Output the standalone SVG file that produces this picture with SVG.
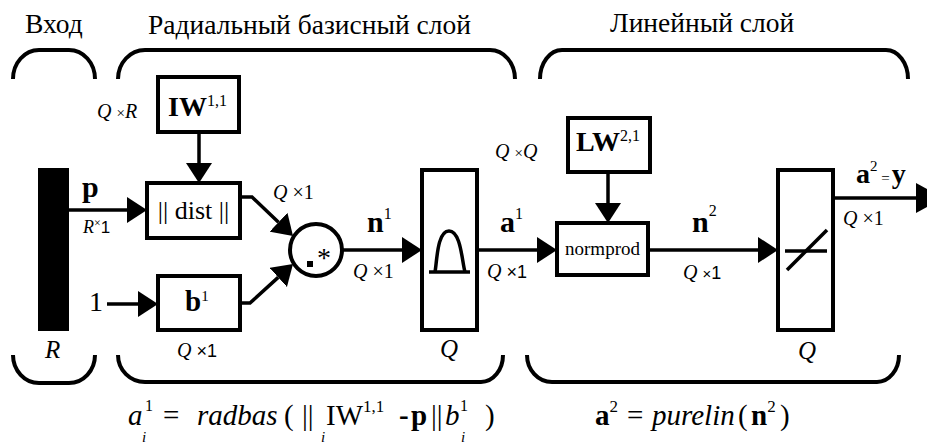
<svg xmlns="http://www.w3.org/2000/svg" width="927" height="448" viewBox="0 0 927 448">
<defs>
<marker id="ah" markerUnits="userSpaceOnUse" markerWidth="20" markerHeight="26" refX="0" refY="13" orient="auto">
<path d="M0,0 L20,13 L0,26 z" fill="#000"/>
</marker>
<style>
.t{font-family:'Liberation Serif','Times New Roman',serif;fill:#000}
.s{font-family:'Liberation Sans',Arial,sans-serif;fill:#000}
.i{font-style:italic}
.b{font-weight:bold}
.box{fill:#fff;stroke:#000;stroke-width:4}
.br{fill:none;stroke:#000;stroke-width:4}
.ln{fill:none;stroke:#000;stroke-width:3.5}
.con{fill:none;stroke:#000;stroke-width:3.5;marker-end:url(#ah)}
.h{font-size:27.5px}
.d{font-size:20px}
.f{font-size:29px}
</style>
</defs>
<rect width="927" height="448" fill="#fff"/>

<g id="headers">
<text class="t h" x="25" y="33">Вход</text>
<text class="t h" x="148" y="34">Радиальный базисный слой</text>
<text class="t h" x="610" y="32">Линейный слой</text>
</g>

<g id="brackets">
<path class="br" d="M13,79 A26,29 0 0 1 39,50 L69,50 A26,29 0 0 1 95,79"/>
<path class="br" d="M13,355 A26,28 0 0 0 39,383 L69,383 A26,28 0 0 0 95,355"/>
<path class="br" d="M118,79 A27,29 0 0 1 145,50 L490,50 A25,29 0 0 1 515,79"/>
<path class="br" d="M118,355 A27,27 0 0 0 145,382 L481,382 A22,27 0 0 0 503,355"/>
<path class="br" d="M540,79 A22,29 0 0 1 562,50 L886,50 A22,29 0 0 1 908,79"/>
<path class="br" d="M527,355 A25,27 0 0 0 552,382 L877,382 A22,27 0 0 0 899,355"/>
</g>

<g id="input">
<rect x="38" y="168" width="31" height="163" fill="#000"/>
<text class="t i" x="45" y="358" font-size="25">R</text>
</g>

<g id="connectors">
<path class="con" d="M69,210 L127,210"/>
<path class="con" d="M199,132 L199,163"/>
<path class="con" d="M240,197 L252,197 L278.5,222.2"/>
<path class="con" d="M107,304 L138,304"/>
<path class="con" d="M240,303 L250,303 L278.2,277.4"/>
<path class="con" d="M342,250 L402,250"/>
<path class="con" d="M477,250 L537,250"/>
<path class="con" d="M608,172 L608,203"/>
<path class="con" d="M648,250 L758,250"/>
<path class="ln" d="M833,198 L917,198"/>
<polygon points="916,183 944,198 916,213" fill="#000"/>
</g>

<g id="labels">
<text class="t b" x="82" y="197" font-size="30">p</text>
<text class="t i" x="83" y="233" font-size="18">R<tspan font-size="12" dy="-6" font-style="normal">×</tspan><tspan class="s" font-size="17" dy="6" font-style="normal">1</tspan></text>
<text class="t i d" x="97" y="118">Q <tspan font-style="normal" font-size="15">×</tspan>R</text>
<text class="t" x="89" y="311" font-size="28">1</text>
<text class="t i d" x="273" y="199">Q <tspan font-style="normal">×1</tspan></text>
<text class="t b" x="367" y="232" font-size="30">n<tspan font-size="16" font-weight="normal" dy="-13">1</tspan></text>
<text class="t i d" x="353" y="278">Q <tspan font-style="normal">×1</tspan></text>
<text class="t b" x="500" y="232" font-size="30">a<tspan font-size="16" font-weight="normal" dy="-13">1</tspan></text>
<text class="t i d" x="487" y="278">Q <tspan class="s" font-style="normal" font-size="18">×1</tspan></text>
<text class="t i d" x="495" y="158">Q <tspan font-style="normal" font-size="15">×</tspan>Q</text>
<text class="t b" x="692" y="232" font-size="30">n<tspan font-size="16" font-weight="normal" dy="-16">2</tspan></text>
<text class="t i d" x="683" y="279">Q <tspan class="s" font-style="normal" font-size="15">×</tspan><tspan class="s" font-style="normal" font-size="18">1</tspan></text>
<text class="t b" x="856" y="183" font-size="28">a<tspan font-size="15" font-weight="normal" dy="-12">2</tspan><tspan font-size="15" font-weight="normal" dy="12"> =</tspan><tspan dx="2">y</tspan></text>
<text class="t i d" x="843" y="225">Q <tspan font-style="normal">×1</tspan></text>
</g>

<g id="node-IW">
<rect class="box" x="158" y="77" width="81" height="55"/>
<text class="t b" x="168" y="116" font-size="28">IW<tspan font-size="16" font-weight="normal" dy="-10">1,1</tspan></text>
</g>

<g id="node-dist">
<rect class="box" x="147" y="183" width="93" height="55"/>
<text class="t" x="193.5" y="219" font-size="26" text-anchor="middle">|| dist ||</text>
</g>

<g id="node-b">
<rect class="box" x="158" y="276" width="82" height="54"/>
<text class="t b" x="185" y="311" font-size="29">b<tspan font-size="15" font-weight="normal" dy="-10">1</tspan></text>
<text class="t i d" x="177" y="357">Q <tspan class="s" font-style="normal" font-size="18">×1</tspan></text>
</g>

<g id="node-mult">
<circle cx="316" cy="250" r="26" fill="#fff" stroke="#000" stroke-width="4"/>
<text class="t" x="317" y="267" font-size="28">*</text>
<rect x="307" y="261" width="6" height="6" fill="#000"/>
</g>

<g id="node-radbas">
<rect class="box" x="422" y="170" width="55" height="160"/>
<path class="ln" d="M429,272 L470,272"/>
<path class="ln" d="M435,272 C437,262 437,231 449,231 C461,231 462,262 465,272"/>
<text class="t i" x="449" y="357" font-size="25" text-anchor="middle">Q</text>
</g>

<g id="node-LW">
<rect class="box" x="568" y="118" width="82" height="54"/>
<text class="t b" x="576" y="151" font-size="28">LW<tspan font-size="16" font-weight="normal" dy="-10">2,1</tspan></text>
</g>

<g id="node-normprod">
<rect class="box" x="557" y="223" width="91" height="52"/>
<text class="t" x="602.5" y="255" font-size="19" text-anchor="middle">normprod</text>
</g>

<g id="node-purelin">
<rect class="box" x="778" y="170" width="55" height="160"/>
<path class="ln" d="M785,251 L827,251"/>
<path class="ln" stroke-width="4" d="M787,270 L827,230"/>
<text class="t i" x="807" y="359" font-size="25" text-anchor="middle">Q</text>
</g>

<g id="formulas">
<text class="t f i" x="128" y="425">a</text>
<text class="t" x="145" y="411" font-size="16">1</text>
<text class="t i" x="142" y="442" font-size="15">i</text>
<text class="t f" x="163" y="425">=</text>
<text class="t f i" x="197" y="425">radbas</text>
<text class="t f" x="284" y="425">(</text>
<text class="t f" x="302" y="425">||</text>
<text class="t i" x="321" y="442" font-size="15">i</text>
<text class="t f" x="326" y="425">IW<tspan font-size="17" dy="-13">1,1</tspan></text>
<text class="t f b" x="399" y="425">-</text>
<text class="t f b" x="411" y="425">p</text>
<text class="t f" x="431" y="425">||</text>
<text class="t f i" x="445" y="425">b</text>
<text class="t" x="460" y="411" font-size="16">1</text>
<text class="t i" x="461" y="442" font-size="15">i</text>
<text class="t f" x="485" y="425">)</text>
<text class="t f b" x="595" y="425">a<tspan font-size="17" font-weight="normal" dy="-13">2</tspan></text>
<text class="t f" x="627" y="425">=</text>
<text class="t f i" x="652" y="425">purelin</text>
<text class="t f" x="738" y="425">(</text>
<text class="t f b" x="751" y="425">n<tspan font-size="17" font-weight="normal" dy="-13">2</tspan></text>
<text class="t f" x="780" y="425">)</text>
</g>
</svg>
